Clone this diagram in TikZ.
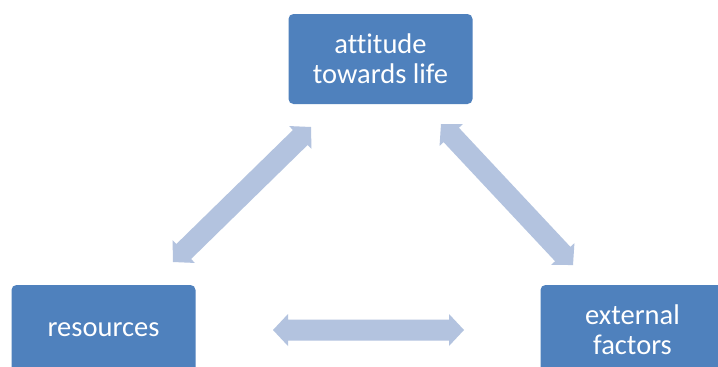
\documentclass[tikz,border=0pt]{standalone}
\usepackage{fontspec}
\setmainfont{Carlito}[Ligatures=NoCommon]
\usetikzlibrary{calc}
\definecolor{boxblue}{HTML}{4F81BD}
\definecolor{arrowblue}{HTML}{B3C3DF}
\begin{document}
\begin{tikzpicture}[x=1pt,y=-1pt,
  box/.style={rectangle, rounded corners=5pt, fill=boxblue, draw=none, text=white,
    minimum width=184pt, minimum height=90pt, inner sep=0pt, align=center,
    font=\fontsize{28.5}{30}\selectfont},
  fatarrow/.style={to path={
    -- ($(\tikztostart)!15pt!(\tikztotarget)!16pt!90:(\tikztotarget)$)
    -- ($(\tikztostart)!15pt!(\tikztotarget)!10.5pt!90:(\tikztotarget)$)
    -- ($(\tikztotarget)!15pt!(\tikztostart)!10.5pt!-90:(\tikztostart)$)
    -- ($(\tikztotarget)!15pt!(\tikztostart)!16pt!-90:(\tikztostart)$)
    -- (\tikztotarget)
    -- ($(\tikztotarget)!15pt!(\tikztostart)!16pt!90:(\tikztostart)$)
    -- ($(\tikztotarget)!15pt!(\tikztostart)!10.5pt!90:(\tikztostart)$)
    -- ($(\tikztostart)!15pt!(\tikztotarget)!10.5pt!-90:(\tikztotarget)$)
    -- ($(\tikztostart)!15pt!(\tikztotarget)!16pt!-90:(\tikztotarget)$)
    -- cycle}},
  arrowfill/.style={fill=arrowblue, draw=none}]
\useasboundingbox (0,0) rectangle (718,367);
\clip (0,0) rectangle (718,367);
\fill[white] (0,0) rectangle (718,367);
\node[box] (att) at (380.5,59) {attitude\\towards life};
\node[box] (res) at (103.5,330) {resources};
\node[box] (ext) at (632.5,330) {external\\factors};
\coordinate (l1) at (173,262);
\coordinate (l2) at (311,127);
\coordinate (r1) at (441,124);
\coordinate (r2) at (573,265);
\coordinate (h1) at (273,330);
\coordinate (h2) at (464,330);
\path[arrowfill] (l1) to[fatarrow] (l2);
\path[arrowfill] (r1) to[fatarrow] (r2);
\path[arrowfill] (h1) to[fatarrow] (h2);
\end{tikzpicture}
\end{document}
